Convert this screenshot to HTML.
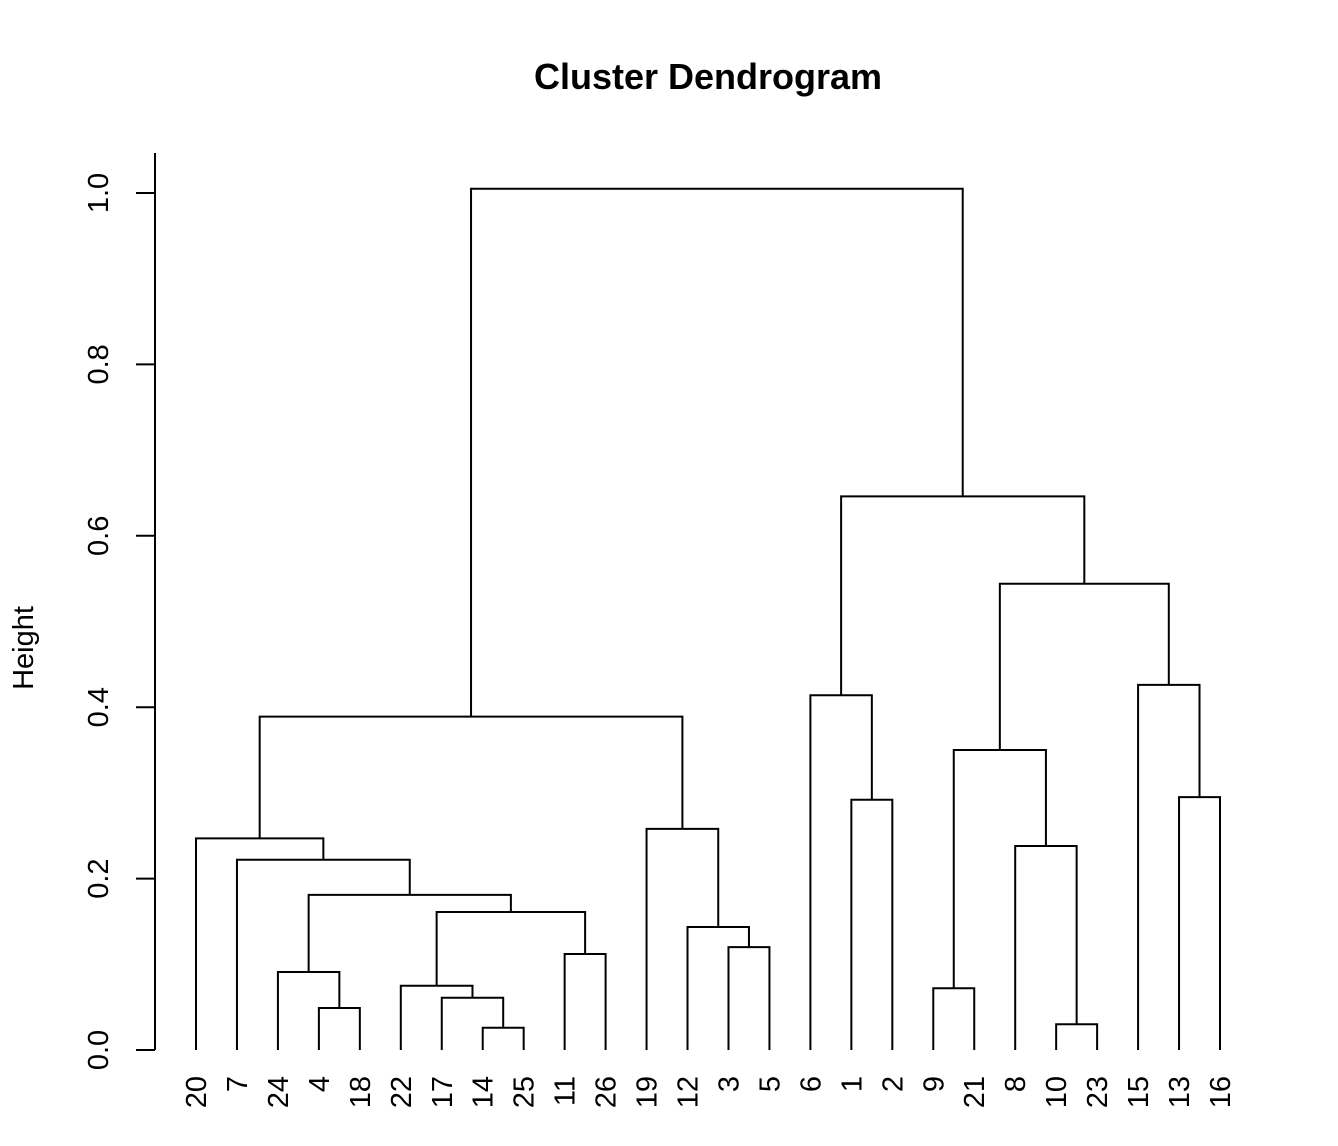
<!DOCTYPE html>
<html><head><meta charset="utf-8"><style>
html,body{margin:0;padding:0;background:#fff;}
svg{display:block;font-family:"Liberation Sans",Arial,sans-serif;}
</style></head><body>
<svg id="chart" width="1338" height="1146" viewBox="0 0 1338 1146" xmlns="http://www.w3.org/2000/svg">
<rect width="1338" height="1146" fill="#fff"/>
<text x="708" y="89" text-anchor="middle" font-size="36" font-weight="bold">Cluster Dendrogram</text>
<text transform="translate(33,648) rotate(-90)" text-anchor="middle" font-size="29">Height</text>
<g id="axis"></g>
<g id="tree"></g>
<g id="leaves"></g>
</svg>
<script>
const leafOrder = [20,7,24,4,18,22,17,14,25,11,26,19,12,3,5,6,1,2,9,21,8,10,23,15,13,16];
const mergeLeft  = [-14,-10,-4,-17,-9,-22,-24,-11,-3,-12,6,7,-7,-8,-20,-19,-1,-13,5,15,-6,-15,19,21,20];
const mergeRight = [-25,-23,-18,1,-21,4,3,-26,-5,9,8,11,12,2,13,10,-2,-16,14,16,17,18,22,23,24];
const mergeHeights = [0.026,0.030,0.049,0.061,0.072,0.075,0.091,0.112,0.120,0.1435,0.161,0.181,0.222,0.238,0.247,0.258,0.292,0.295,0.350,0.389,0.414,0.426,0.544,0.646,1.005];
const yTicks = [0,0.2,0.4,0.6,0.8,1.0];
const yTickLabels = ["0.0","0.2","0.4","0.6","0.8","1.0"];

const NS="http://www.w3.org/2000/svg";
const y0=1050, pxPerUnit=857;
const yScale = v => y0 - v*pxPerUnit;
const xLeft=196, xStep=(1220-196)/25;
const xScale = i => xLeft + i*xStep;

function mk(tag, attrs, parent){const e=document.createElementNS(NS,tag);for(const k in attrs)e.setAttribute(k,attrs[k]);parent.appendChild(e);return e;}

const axis=document.getElementById('axis');
const axLine=mk('line',{x1:155,x2:155,y1:yScale(0),y2:153,stroke:'#000','stroke-width':2},axis);


yTicks.forEach((t,i)=>{
  const tk=mk('line',{x1:136,x2:155,y1:yScale(t),y2:yScale(t),stroke:'#000','stroke-width':2},axis);
  
  
  const tl=mk('text',{transform:`translate(108,${yScale(t)}) rotate(-90)`,'text-anchor':'middle','font-size':29},axis);
  tl.textContent=yTickLabels[i];
  
  
});

const leafPos={};
leafOrder.forEach((l,i)=>{leafPos[l]=xScale(i);});
const leavesG=document.getElementById('leaves');
leafOrder.forEach((l,i)=>{
  const t=mk('text',{transform:`translate(${xScale(i)+10},1076) rotate(-90)`,'text-anchor':'end','font-size':29},leavesG);
  t.textContent=String(l);
  
  
});

const tree=document.getElementById('tree');
const nodeX=[], nodeH=[];
function info(ref){ return ref<0 ? [leafPos[-ref],0] : [nodeX[ref-1],nodeH[ref-1]]; }
for(let k=0;k<mergeHeights.length;k++){
  const [xa,ha]=info(mergeLeft[k]);
  const [xb,hb]=info(mergeRight[k]);
  const h=mergeHeights[k];
  nodeX[k]=(xa+xb)/2; nodeH[k]=h;
  const p=mk('path',{d:`M${xa},${yScale(ha)}V${yScale(h)}H${xb}V${yScale(hb)}`,fill:'none',stroke:'#000','stroke-width':2},tree);
  
  
}
</script>
</body></html>
